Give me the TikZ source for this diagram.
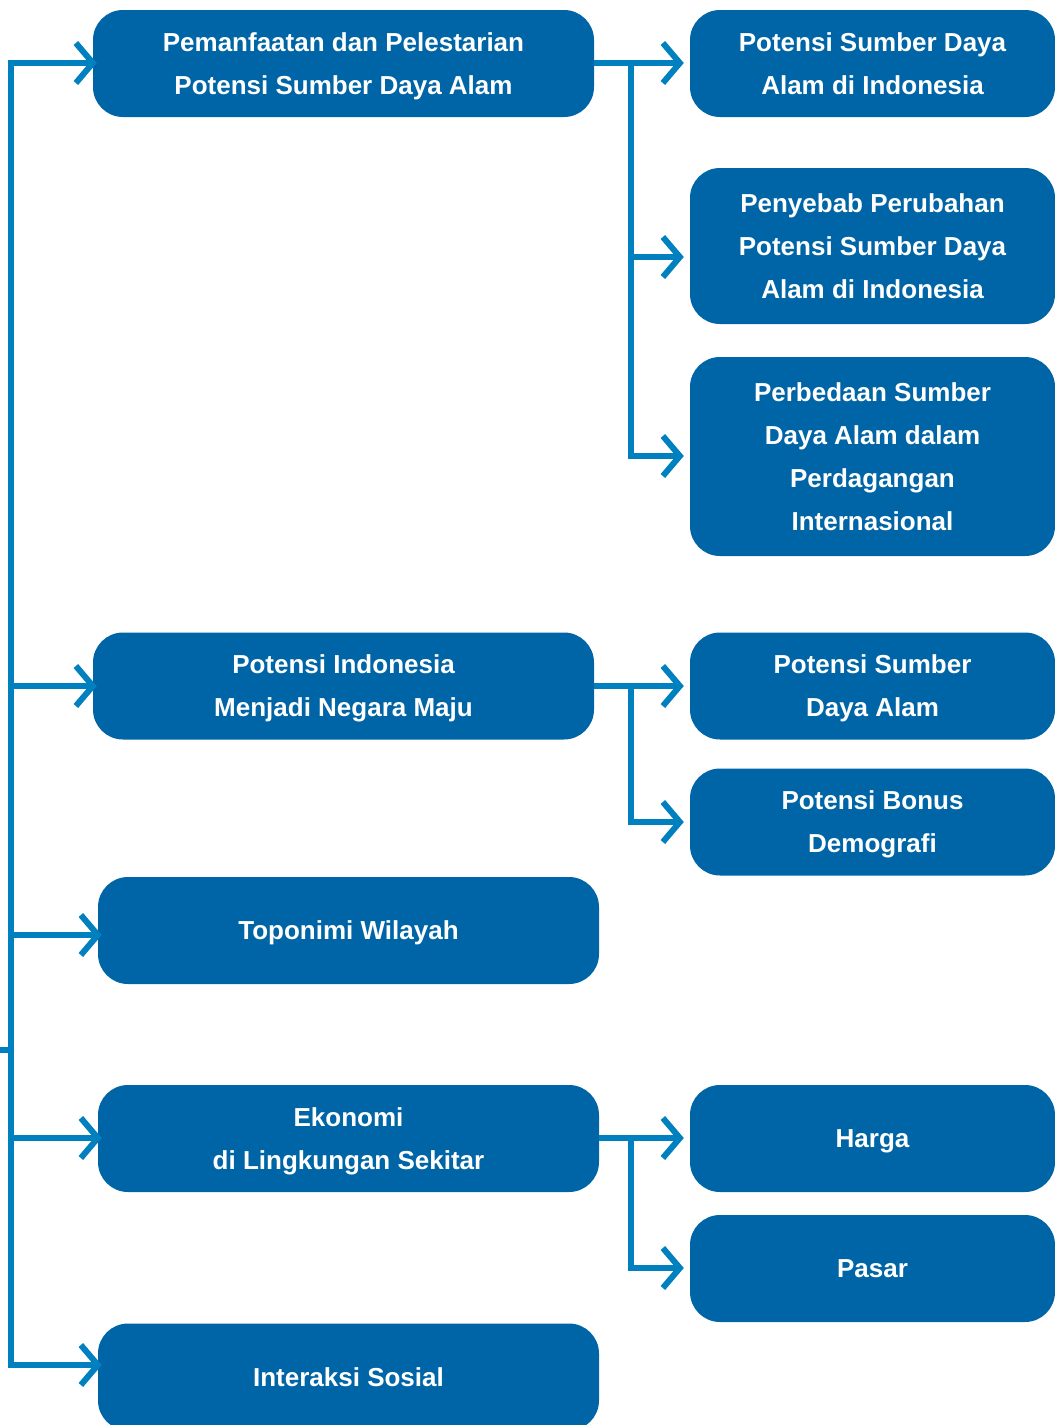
\documentclass[tikz,border=0pt]{standalone}
\usepackage{fontspec}
\setmainfont{Liberation Sans}
\usetikzlibrary{arrows.meta}
\definecolor{boxblue}{RGB}{0,101,166}
\definecolor{lineblue}{RGB}{0,128,190}
\tikzset{
  topic/.style={fill=boxblue,rounded corners=30pt,minimum width=501pt,minimum height=107pt,align=center,text=white,inner sep=0pt,
    text depth=0pt,font=\bfseries\fontsize{26}{43}\selectfont},
  sub/.style={topic,minimum width=365pt},
  link/.style={draw=lineblue,line width=6pt},
  tip/.style={-{Straight Barb[length=17pt,width=40pt]}},
}
\begin{document}
\begin{tikzpicture}[x=1pt,y=-1pt]
  \clip (0,0) rectangle (1055,1425);
  % main topics
  \node[topic] (pemanfaatan) at (343.5,63.5) {Pemanfaatan dan Pelestarian\\Potensi Sumber Daya Alam};
  \node[topic] (negara) at (343.5,686) {Potensi Indonesia\\Menjadi Negara Maju};
  \node[topic] (toponimi) at (348.5,930.5) {Toponimi Wilayah};
  \node[topic] (ekonomi) at (348.5,1138.5) {Ekonomi\\di Lingkungan Sekitar};
  \node[topic] (interaksi) at (348.5,1377) {Interaksi Sosial};
  % sub topics
  \node[sub] (sdaindo) at (872.5,63.5) {Potensi Sumber Daya\\Alam di Indonesia};
  \node[sub,minimum height=156pt] (penyebab) at (872.5,246) {Penyebab Perubahan\\Potensi Sumber Daya\\Alam di Indonesia};
  \node[sub,minimum height=199pt] (perbedaan) at (872.5,456.5) {Perbedaan Sumber\\Daya Alam dalam\\Perdagangan\\Internasional};
  \node[sub] (sdaalam) at (872.5,686) {Potensi Sumber\\Daya Alam};
  \node[sub] (bonus) at (872.5,822) {Potensi Bonus\\Demografi};
  \node[sub] (harga) at (872.5,1138.5) {Harga};
  \node[sub] (pasar) at (872.5,1268.5) {Pasar};
  % left spine
  \coordinate (spinetop) at (11,60);
  \coordinate (spinebot) at (11,1368);
  \coordinate (stub) at (0,1050);
  \draw[link] (spinetop) -- (spinebot);
  \draw[link] (stub) -- (stub -| spinetop);
  \foreach \n/\y in {pemanfaatan/63,negara/686,toponimi/935,ekonomi/1138,interaksi/1365}
    \draw[link,tip] (11,\y) -- ([xshift=4pt]\n.west |- 0,\y);
  % branches to sub topics
  \foreach \m/\n/\top/\bot in {pemanfaatan/sdaindo/63/459,negara/sdaalam/686/825,ekonomi/harga/1138/1271}{
    \draw[link] (631,\top) -- (631,\bot);
    \draw[link,tip] (\m.east |- 0,\top) -- ([xshift=-6pt]\n.west |- 0,\top);
  }
  \foreach \n/\y in {penyebab/257,perbedaan/456,bonus/822,pasar/1268}
    \draw[link,tip] (628,\y) -- ([xshift=-6pt]\n.west |- 0,\y);
\end{tikzpicture}
\end{document}
